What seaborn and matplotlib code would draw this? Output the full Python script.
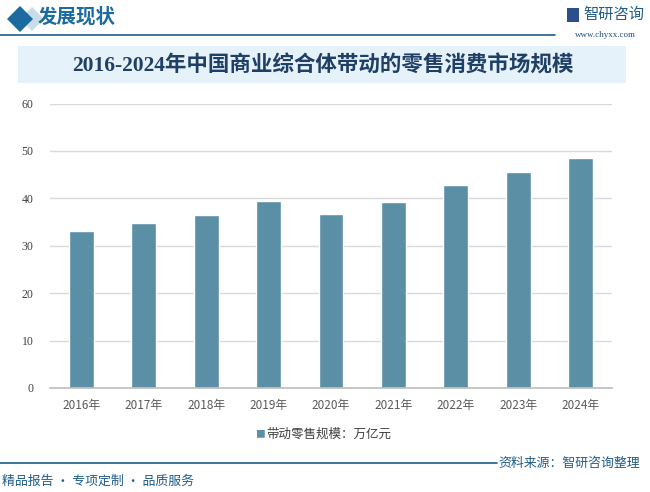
import pandas as pd
import matplotlib.pyplot as plt
import seaborn as sns
from matplotlib.patches import Rectangle, Polygon
from matplotlib.lines import Line2D

# 2016-2024年中国商业综合体带动的零售消费市场规模（万亿元）
years = ["2016年", "2017年", "2018年", "2019年", "2020年", "2021年", "2022年", "2023年", "2024年"]
values = [33.1, 34.8, 36.5, 39.4, 36.7, 39.2, 42.8, 45.6, 48.5]
yticks = [0, 10, 20, 30, 40, 50, 60]

df = pd.DataFrame({"year": years, "value": values})

sns.set_theme(style="white")
plt.rcParams["font.family"] = ["Noto Sans CJK SC", "DejaVu Sans"]

W, H = 650, 492
fig = plt.figure(figsize=(6.5, 4.92), dpi=100)

# 页眉
fig.add_artist(Polygon([(32 / W, 1 - 7 / H), (44 / W, 1 - 19 / H), (32 / W, 1 - 31 / H), (20 / W, 1 - 19 / H)],
                       closed=True, facecolor="#c9dcea", edgecolor="none", transform=fig.transFigure))
fig.add_artist(Polygon([(20 / W, 1 - 6 / H), (33 / W, 1 - 19 / H), (20 / W, 1 - 32 / H), (7 / W, 1 - 19 / H)],
                       closed=True, facecolor="#1b6aa0", edgecolor="none", transform=fig.transFigure))
fig.text(38 / W, 1 - 17 / H, "发展现状", fontsize=14, fontweight="bold", color="#1b6aa0", va="center", ha="left")
fig.add_artist(Line2D([0, 555 / W], [1 - 35 / H, 1 - 35 / H], color="#1f5c8b", lw=1.2, transform=fig.transFigure))
fig.add_artist(Rectangle((567 / W, 1 - 22 / H), 12 / W, 14 / H, facecolor="#2a4f8c", edgecolor="none",
                         transform=fig.transFigure))
fig.text(614 / W, 1 - 14 / H, "智研咨询", fontsize=11, color="#1f5c8b", va="center", ha="center")
fig.text(605 / W, 1 - 35 / H, "www.chyxx.com", fontsize=6.5, color="#1f4e79", va="center", ha="center",
         family=["Liberation Serif", "DejaVu Serif"])

# 标题框
fig.add_artist(Rectangle((18 / W, 1 - 83 / H), 608 / W, 37 / H, facecolor="#e6f2fa", edgecolor="none",
                         transform=fig.transFigure))
fig.text(323 / W, 1 - 66 / H, "2016-2024年中国商业综合体带动的零售消费市场规模", fontsize=15.5,
         fontweight="bold", color="#1f3f66", va="center", ha="center",
         family=["Liberation Serif", "Noto Sans CJK SC"])

# 主图
ax = fig.add_axes([50 / W, 1 - 388 / H, 562 / W, 284.5 / H])
sns.barplot(data=df, x="year", y="value", color="#5b8fa6", width=0.4, saturation=1, ax=ax)
ax.set_ylim(0, 60)
ax.set_yticks(yticks)
ax.set_xlim(-0.5, len(years) - 0.5)
ax.set_xlabel("")
ax.set_ylabel("")
ax.yaxis.grid(True, color="#d9d9d9", lw=1)
ax.set_axisbelow(True)
for s in ["left", "right", "top"]:
    ax.spines[s].set_visible(False)
ax.spines["bottom"].set_color("#bfbfbf")
ax.tick_params(axis="y", length=0, labelsize=8.5, labelcolor="#404040", pad=12)
ax.tick_params(axis="x", length=0, labelsize=8.5, labelcolor="#595959", pad=8)
ax.set_xticks([i + 0.5 for i in range(-1, len(years))], minor=True)
ax.tick_params(axis="x", which="minor", length=4, color="#bfbfbf", direction="out")
for lbl in ax.get_yticklabels():
    lbl.set_family(["Liberation Serif", "DejaVu Serif"])

# 图例
fig.text(260 / W, 1 - 434 / H, "■", fontsize=7, color="#5b8fa6", va="center", ha="center")
fig.text(266 / W, 1 - 434 / H, "带动零售规模：万亿元", fontsize=9, color="#404040", va="center", ha="left")

# 页脚
fig.add_artist(Line2D([0, 497 / W], [1 - 463 / H, 1 - 463 / H], color="#1f5c8b", lw=1.2, transform=fig.transFigure))
fig.text(498 / W, 1 - 463 / H, "资料来源：智研咨询整理", fontsize=9.3, color="#1f5c8b", va="center", ha="left")
fig.text(2 / W, 1 - 481 / H, "精品报告 · 专项定制 · 品质服务", fontsize=9.3, color="#1f5c8b", va="center", ha="left")

fig.savefig("out.png", dpi=100)
